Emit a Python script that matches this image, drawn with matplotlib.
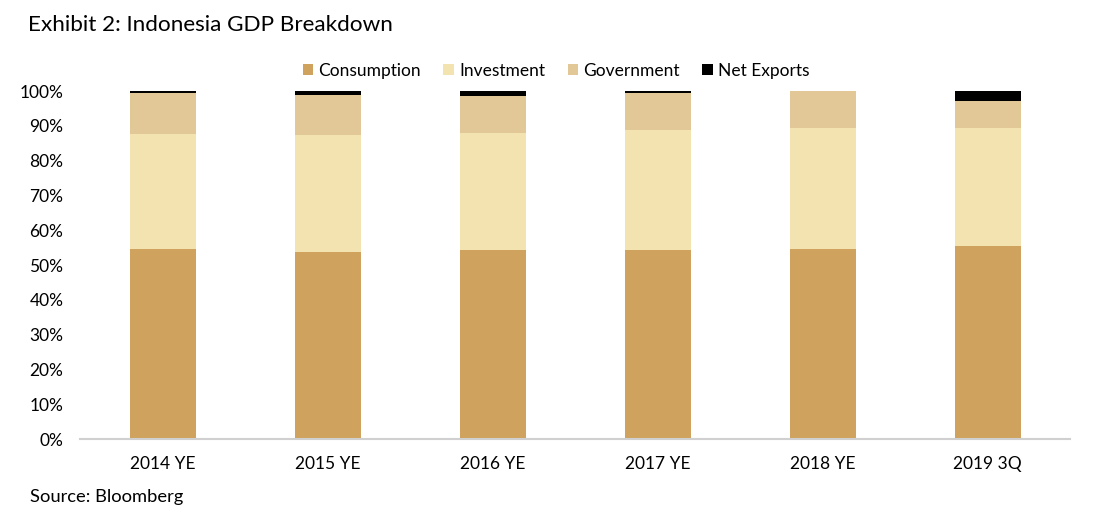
import matplotlib.pyplot as plt
import numpy as np
from matplotlib.ticker import PercentFormatter

# share of GDP (%)
periods = ["2014 YE", "2015 YE", "2016 YE", "2017 YE", "2018 YE", "2019 3Q"]
consumption = [54.6, 53.7, 54.3, 54.3, 54.6, 55.5]
investment = [33.0, 33.7, 33.6, 34.5, 34.8, 33.9]
government = [11.9, 11.5, 10.7, 10.7, 10.6, 7.7]
net_exports = [0.5, 1.1, 1.4, 0.5, 0.0, 2.9]

series = [
    ("Consumption", consumption, "#CFA35D"),
    ("Investment", investment, "#F3E3B1"),
    ("Government", government, "#E1C896"),
    ("Net Exports", net_exports, "#000000"),
]

plt.rcParams["font.family"] = ["Lato", "DejaVu Sans"]

fig = plt.figure(figsize=(11.07, 5.19), dpi=100)
ax = fig.add_axes([80 / 1107, 80 / 519, 990 / 1107, 348 / 519])

x = np.arange(len(periods))
bottom = np.zeros(len(periods))
for name, vals, color in series:
    ax.bar(x, vals, bottom=bottom, width=0.4, color=color, label=name)
    bottom += np.array(vals)

ax.set_xlim(-0.5, len(periods) - 0.5)
ax.set_ylim(0, 100)
ax.set_yticks(np.arange(0, 101, 10))
ax.yaxis.set_major_formatter(PercentFormatter(decimals=0))
ax.set_xticks(x)
ax.set_xticklabels(periods)
ax.tick_params(axis="both", length=0, labelsize=12.5, colors="#000000")
ax.tick_params(axis="x", pad=12)
ax.tick_params(axis="y", pad=12)

for side in ["top", "right", "left"]:
    ax.spines[side].set_visible(False)
ax.spines["bottom"].set_color("#D0D0D0")
ax.spines["bottom"].set_linewidth(1.5)

# legend centred above the bars
ax.legend(
    loc="center",
    bbox_to_anchor=(556 / 1107, 1 - 71 / 519),
    bbox_transform=fig.transFigure,
    ncol=4,
    frameon=False,
    fontsize=12.5,
    handlelength=0.6,
    handleheight=0.6,
    handletextpad=0.3,
    columnspacing=1.3,
)

fig.text(28 / 1107, 1 - 25 / 519, "Exhibit 2: Indonesia GDP Breakdown",
         fontsize=16.2, va="center", ha="left")
fig.text(30 / 1107, 1 - 497 / 519, "Source: Bloomberg",
         fontsize=13.2, va="center", ha="left")

fig.savefig("out.png", dpi=100)
